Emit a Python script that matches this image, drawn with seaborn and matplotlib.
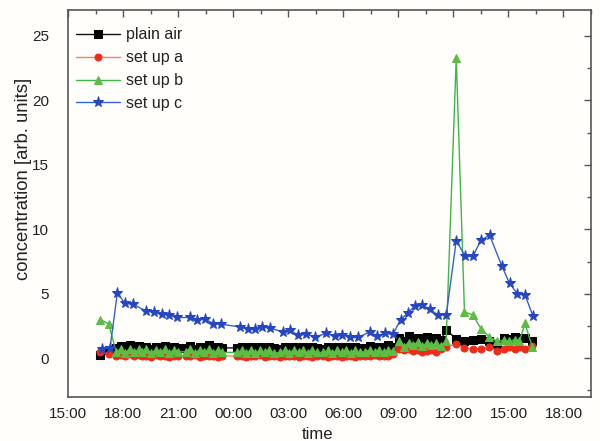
import numpy as np
import pandas as pd
import matplotlib
matplotlib.use("Agg")
import matplotlib.pyplot as plt
from matplotlib.ticker import MultipleLocator
import seaborn as sns

# ---- data (hours since 15:00 of day 1) ----
t_dense = [
    1.75, 2.2,
    2.6, 2.85, 3.1, 3.35, 3.6, 3.85,
    4.0, 4.25, 4.5, 4.75, 5.0, 5.25, 5.5, 5.75, 6.0,
    6.4, 6.65, 6.9, 7.15, 7.4, 7.65, 7.9, 8.15, 8.4,
    9.2, 9.45, 9.7, 9.95, 10.2, 10.45, 10.7, 10.95, 11.2,
    11.55, 11.8, 12.05, 12.3, 12.55, 12.8, 13.05, 13.3, 13.55,
    13.9, 14.15, 14.4, 14.65, 14.9, 15.15, 15.4, 15.65, 15.9,
    16.2, 16.45, 16.7, 16.95, 17.2, 17.45, 17.7,
    18.05, 18.3, 18.55, 18.8, 19.05, 19.3, 19.55, 19.8, 20.05, 20.3, 20.6,
    21.15, 21.6, 22.05, 22.5, 22.95, 23.4,
    23.75, 24.05, 24.35, 24.6, 24.9, 25.3,
]

plain_air = [
    0.25, 0.6,
    0.8, 0.95, 0.75, 1.0, 0.8, 0.95,
    0.75, 0.9, 0.7, 0.9, 0.8, 0.95, 0.75, 0.9, 0.8,
    0.8, 0.95, 0.75, 0.9, 0.8, 1.0, 0.75, 0.9, 0.8,
    0.8, 0.9, 0.75, 0.85, 0.8, 0.9, 0.7, 0.85, 0.8,
    0.7, 0.85, 0.75, 0.9, 0.8, 0.85, 0.7, 0.9, 0.8,
    0.75, 0.9, 0.7, 0.85, 0.8, 0.9, 0.75, 0.85, 0.8,
    0.8, 0.95, 0.75, 0.9, 0.85, 1.0, 0.9,
    1.6, 1.3, 1.7, 1.5, 1.6, 1.4, 1.65, 1.5, 1.55, 1.4, 2.2,
    1.5, 1.35, 1.4, 1.5, 1.35, 1.1,
    1.6, 1.5, 1.65, 1.55, 1.6, 1.3,
]

set_up_a = [
    0.5, 0.3,
    0.2, 0.25, 0.15, 0.3, 0.2, 0.25,
    0.15, 0.2, 0.1, 0.25, 0.15, 0.2, 0.1, 0.2, 0.15,
    0.2, 0.15, 0.25, 0.1, 0.2, 0.15, 0.2, 0.1, 0.2,
    0.15, 0.2, 0.1, 0.2, 0.15, 0.25, 0.1, 0.2, 0.15,
    0.1, 0.2, 0.15, 0.2, 0.1, 0.15, 0.2, 0.1, 0.15,
    0.15, 0.1, 0.2, 0.15, 0.1, 0.2, 0.15, 0.1, 0.2,
    0.2, 0.15, 0.25, 0.2, 0.15, 0.2, 0.3,
    0.7, 0.6, 0.75, 0.55, 0.6, 0.5, 0.55, 0.6, 0.5, 0.7, 0.9,
    1.1, 0.8, 0.7, 0.75, 0.85, 0.55,
    0.7, 0.85, 0.7, 0.9, 0.75, 0.95,
]

set_up_b = [
    3.0, 2.65,
    0.5, 0.7, 0.4, 0.75, 0.45, 0.7,
    0.45, 0.7, 0.4, 0.65, 0.45, 0.7, 0.4, 0.65, 0.5,
    0.5, 0.7, 0.4, 0.65, 0.45, 0.7, 0.4, 0.65, 0.45,
    0.45, 0.6, 0.4, 0.65, 0.4, 0.6, 0.45, 0.6, 0.4,
    0.45, 0.6, 0.4, 0.65, 0.45, 0.6, 0.4, 0.6, 0.45,
    0.45, 0.6, 0.4, 0.6, 0.45, 0.65, 0.4, 0.6, 0.45,
    0.5, 0.65, 0.45, 0.6, 0.5, 0.65, 0.55,
    1.3, 0.9, 1.2, 1.0, 1.25, 0.95, 1.2, 1.0, 1.15, 0.95, 1.3,
    23.3, 3.6, 3.35, 2.3, 1.65, 1.3,
    1.4, 1.3, 1.45, 1.35, 2.7, 0.85,
]

t_c = [
    1.82, 2.27, 2.67, 3.09, 3.5,
    4.23, 4.67, 5.09, 5.5, 5.9,
    6.63, 7.03, 7.45, 7.9, 8.3,
    9.35, 9.77, 10.17, 10.57, 10.99,
    11.68, 12.08, 12.53, 12.98, 13.44,
    14.07, 14.53, 14.94, 15.38, 15.8,
    16.43, 16.85, 17.29, 17.7,
    18.12, 18.52, 18.88, 19.3, 19.7, 20.15, 20.61,
    21.15, 21.64, 22.06, 22.5, 22.97,
    23.64, 24.06, 24.48, 24.91, 25.33,
]
set_up_c = [
    0.75, 0.78, 5.07, 4.25, 4.2,
    3.67, 3.55, 3.42, 3.39, 3.16,
    3.16, 3.0, 3.03, 2.69, 2.64,
    2.43, 2.3, 2.3, 2.43, 2.35,
    2.04, 2.17, 1.79, 1.86, 1.65,
    1.92, 1.71, 1.84, 1.61, 1.61,
    2.04, 1.71, 1.92, 1.86,
    3.0, 3.52, 4.04, 4.09, 3.83, 3.34, 3.39,
    9.11, 7.92, 7.92, 9.16, 9.55,
    7.14, 5.8, 5.02, 4.89, 3.28,
]

x_tick_labels = ["15:00", "18:00", "21:00", "00:00", "03:00", "06:00",
                 "09:00", "12:00", "15:00", "18:00"]
y_tick_labels = ["0", "5", "10", "15", "20", "25"]
series_names = ["plain air", "set up a", "set up b", "set up c"]

# ---- styling ----
sns.set_theme(style="white")
plt.rcParams["font.family"] = ["Liberation Sans", "DejaVu Sans"]

fig = plt.figure(figsize=(6.0, 4.41), dpi=100)
fig.patch.set_facecolor("#fffefb")
ax = fig.add_axes([0.114, 0.100, 0.871, 0.877])
ax.set_facecolor("#fffefb")

df_dense = pd.DataFrame({"t": t_dense, "plain air": plain_air,
                         "set up a": set_up_a, "set up b": set_up_b})
df_c = pd.DataFrame({"t": t_c, "set up c": set_up_c})

styles = {
    "plain air": dict(color="#111111", marker="s", markersize=5.5, mfc="#000000", mec="#000000", lw=1.0),
    "set up a": dict(color="#f4806a", marker="o", markersize=5, mfc="#f02a18", mec="#f02a18", lw=1.0),
    "set up b": dict(color="#3fb54a", marker="^", markersize=6, mfc="#5cbc44", mec="#5cbc44", lw=1.0),
    "set up c": dict(color="#3363d0", marker="*", markersize=8, mfc="#2747c0", mec="#2747c0", lw=1.0),
}

for name in ["plain air", "set up a", "set up b"]:
    st = styles[name]
    sns.lineplot(data=df_dense, x="t", y=name, ax=ax, sort=False, estimator=None,
                 color=st["color"], marker=st["marker"], markersize=st["markersize"],
                 markerfacecolor=st["mfc"], markeredgecolor=st["mec"],
                 linewidth=st["lw"], label=name)
st = styles["set up c"]
sns.lineplot(data=df_c, x="t", y="set up c", ax=ax, sort=False, estimator=None,
             color=st["color"], marker=st["marker"], markersize=st["markersize"],
             markerfacecolor=st["mfc"], markeredgecolor=st["mec"],
             linewidth=st["lw"], label="set up c")

ax.set_xlim(0, 28.5)
ax.set_ylim(-3, 27)
ax.set_xticks([3 * i for i in range(len(x_tick_labels))])
ax.set_xticklabels(x_tick_labels)
ax.set_yticks([5 * i for i in range(len(y_tick_labels))])
ax.set_yticklabels(y_tick_labels)
ax.xaxis.set_minor_locator(MultipleLocator(1.5))
ax.yaxis.set_minor_locator(MultipleLocator(2.5))
ax.tick_params(which="both", direction="in", top=True, right=True,
               colors="#555555", labelcolor="#222222", labelsize=11, width=1.0)
ax.tick_params(which="major", length=5)
ax.tick_params(which="minor", length=3)
ax.tick_params(axis="y", which="both", pad=14)
ax.tick_params(axis="x", which="both", pad=7)
for s in ax.spines.values():
    s.set_color("#555555")
    s.set_linewidth(1.2)

ax.set_xlabel("time", fontsize=12, color="#222222")
ax.xaxis.set_label_coords(0.477, -0.078)
ax.xaxis.label.set_va("top")
ax.set_ylabel("concentration [arb. units]", fontsize=13.3, color="#222222")
ax.yaxis.set_label_coords(-0.069, 0.563)

leg = ax.legend(loc="upper left", frameon=False, fontsize=11.5, handlelength=2.75,
                handletextpad=0.38, labelspacing=0.5, borderaxespad=0.3,
                bbox_to_anchor=(-0.006, 0.985))
for txt in leg.get_texts():
    txt.set_color("#222222")

fig.savefig("out.png", dpi=100, facecolor=fig.get_facecolor())
